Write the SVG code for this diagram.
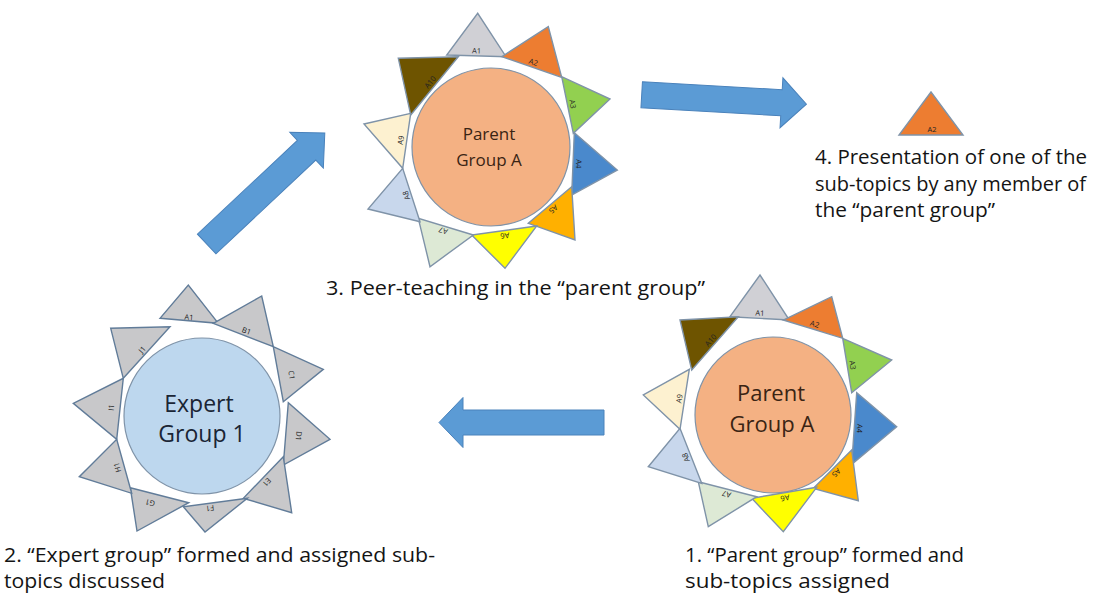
<svg xmlns="http://www.w3.org/2000/svg" width="1098" height="599" viewBox="0 0 1098 599">
<defs>
<style>
.tri{stroke:#7f93a8;stroke-width:1.4;stroke-linejoin:miter}
.etri{fill:#c8c8ca;stroke:#617c99;stroke-width:1.4}
.lbl{font-family:"Open Sans","Liberation Sans",sans-serif;font-size:7.5px;fill:#222;text-anchor:middle;dominant-baseline:central}
.pc{fill:#f4b183;stroke:#7f93a8;stroke-width:1.2}
.ec{fill:#bdd7ee;stroke:#7f93a8;stroke-width:1.2}
.big{font-family:"Open Sans","Liberation Sans",sans-serif;text-anchor:middle}
.cap{font-family:"Open Sans","Liberation Sans",sans-serif;font-size:20.5px;fill:#141414}
.arr{fill:#5b9bd5;stroke:#4a82bb;stroke-width:1}
.c1{fill:#d0d0d5}.c2{fill:#ed7d31}.c3{fill:#92d050}.c4{fill:#4a89cc}.c5{fill:#ffb000}
.c6{fill:#ffff00}.c7{fill:#dde9d5}.c8{fill:#c8d7ec}.c9{fill:#fdf1d0}.c10{fill:#6e5400}
</style>
</defs>

<g id="connectors">
<polygon class="arr" transform="translate(206.7,244) rotate(-43.2)" points="0,-13.5 137,-13.5 137,-24.5 162,0 137,24.5 137,13.5 0,13.5"/>
<polygon class="arr" transform="translate(641.7,94.7) rotate(3.3)" points="0,-13 140,-13 140,-25 165,0 140,25 140,13 0,13"/>
<polygon class="arr" transform="translate(604,422.5) rotate(180)" points="0,-12.5 141,-12.5 141,-25 165,0 141,25 141,12.5 0,12.5"/>
</g>

<g id="parent-group-top">
<g id="top-A1"><polygon class="tri c1" points="446.7,55 506,56.7 477.7,13.3"/><text class="lbl" transform="translate(476.5,50.5) rotate(1.6)">A1</text></g>
<g id="top-A2"><polygon class="tri c2" points="501.7,56.7 561.7,77.3 548.3,26.7"/><text class="lbl" transform="translate(533.6,61.8) rotate(18.9)">A2</text></g>
<g id="top-A3"><polygon class="tri c3" points="561.7,76.7 573.3,133.3 610,99"/><text class="lbl" transform="translate(573,104) rotate(78.4)">A3</text></g>
<g id="top-A4"><polygon class="tri c4" points="574.3,132.7 571.7,195 617.3,170"/><text class="lbl" transform="translate(579,164) rotate(92.4)">A4</text></g>
<g id="top-A5"><polygon class="tri c5" points="571.7,186.7 528.3,223.3 575,240"/><text class="lbl" transform="translate(553.5,209.5) rotate(139.9)">A5</text></g>
<g id="top-A6"><polygon class="tri c6" points="536.7,226 471.7,235 505,268.3"/><text class="lbl" transform="translate(505,236) rotate(172.1)">A6</text></g>
<g id="top-A7"><polygon class="tri c7" points="473.3,235 418.3,218.3 430,266.7"/><text class="lbl" transform="translate(443,231) rotate(196.9)">A7</text></g>
<g id="top-A8"><polygon class="tri c8" points="420,221.7 402.7,168.3 368,209"/><text class="lbl" transform="translate(406,195.5) rotate(252)">A8</text></g>
<g id="top-A9"><polygon class="tri c9" points="402.7,168.3 410.7,113.3 364,124"/><text class="lbl" transform="translate(400.5,140) rotate(278.3)">A9</text></g>
<g id="top-A10"><polygon class="tri c10" points="410.7,115 458.3,56.7 398.3,58.3"/><text class="lbl" transform="translate(430,82) rotate(309.2)">A10</text></g>
<circle class="pc" cx="491" cy="147" r="79"/>
<text class="big" x="489" y="140" font-size="17" fill="#3a2414">Parent</text>
<text class="big" x="489" y="166" font-size="17" fill="#3a2414">Group A</text>
</g>

<g id="parent-group-right">
<g id="right-A1"><polygon class="tri c1" points="730,316.7 789.3,320 760,275"/><text class="lbl" transform="translate(760,312.8) rotate(3.2)">A1</text></g>
<g id="right-A2"><polygon class="tri c2" points="783.3,320 842.7,338.3 831.7,296.7"/><text class="lbl" transform="translate(814.8,323.8) rotate(17.1)">A2</text></g>
<g id="right-A3"><polygon class="tri c3" points="842.7,338.3 851.7,392.7 891.7,360"/><text class="lbl" transform="translate(853,365) rotate(80.6)">A3</text></g>
<g id="right-A4"><polygon class="tri c4" points="856.7,392.7 851.7,464.3 896.7,426.7"/><text class="lbl" transform="translate(860,428.5) rotate(94)">A4</text></g>
<g id="right-A5"><polygon class="tri c5" points="851.7,450 813.3,488.3 858.3,500.7"/><text class="lbl" transform="translate(836.5,473) rotate(135)">A5</text></g>
<g id="right-A6"><polygon class="tri c6" points="816.7,487.3 751.7,498.3 783.3,531.7"/><text class="lbl" transform="translate(785,498.3) rotate(170.4)">A6</text></g>
<g id="right-A7"><polygon class="tri c7" points="756.7,496.7 698.3,481.7 708.3,526.7"/><text class="lbl" transform="translate(726.5,494.5) rotate(194.4)">A7</text></g>
<g id="right-A8"><polygon class="tri c8" points="701.7,483.3 680,428.3 648.3,466.7"/><text class="lbl" transform="translate(685.5,457.5) rotate(248.5)">A8</text></g>
<g id="right-A9"><polygon class="tri c9" points="680,429.3 689.3,369.3 643.3,395"/><text class="lbl" transform="translate(679,398.5) rotate(278.8)">A9</text></g>
<g id="right-A10"><polygon class="tri c10" points="691.7,370 738.3,316.7 680,320"/><text class="lbl" transform="translate(710.5,340) rotate(311.2)">A10</text></g>
<circle class="pc" cx="773" cy="415" r="78"/>
<text class="big" x="771" y="401" font-size="22" fill="#3a2414">Parent</text>
<text class="big" x="772" y="432" font-size="22" fill="#3a2414">Group A</text>
</g>

<g id="expert-group">
<g id="exp-A1"><polygon class="etri" points="160,318.3 218.3,323.3 188.3,285"/><text class="lbl" transform="translate(189,317) rotate(4.9)">A1</text></g>
<g id="exp-B1"><polygon class="etri" points="213.3,323.3 273.3,346.7 261.7,296"/><text class="lbl" transform="translate(246.5,330.5) rotate(21.3)">B1</text></g>
<g id="exp-C1"><polygon class="etri" points="273.3,346.7 283.3,401.7 323.3,369.3"/><text class="lbl" transform="translate(292,375) rotate(79.7)">C1</text></g>
<g id="exp-D1"><polygon class="etri" points="288.3,402.7 283.3,465 330,439.3"/><text class="lbl" transform="translate(299,436) rotate(94.6)">D1</text></g>
<g id="exp-E1"><polygon class="etri" points="283.3,456.7 243.3,498.3 291.7,512.7"/><text class="lbl" transform="translate(267,482.5) rotate(133.9)">E1</text></g>
<g id="exp-F1"><polygon class="etri" points="247.3,498.3 183.3,506.7 205,532"/><text class="lbl" transform="translate(210,508.5) rotate(172.5)">F1</text></g>
<g id="exp-G1"><polygon class="etri" points="188.7,502.7 130.3,487.7 137,531"/><text class="lbl" transform="translate(150,503) rotate(194.4)">G1</text></g>
<g id="exp-H1"><polygon class="etri" points="131.7,493.3 116.7,439.3 79.3,476.7"/><text class="lbl" transform="translate(117,467.5) rotate(254.5)">H1</text></g>
<g id="exp-I1"><polygon class="etri" points="116.7,439.3 123.3,378.3 73.3,403.3"/><text class="lbl" transform="translate(111,407.5) rotate(276.2)">I1</text></g>
<g id="exp-J1"><polygon class="etri" points="123.3,378.3 170,326.7 110.7,328.3"/><text class="lbl" transform="translate(142,349.5) rotate(312.1)">J1</text></g>
<circle class="ec" cx="202" cy="416" r="78"/>
<text class="big" x="199" y="412" font-size="23" fill="#1a2535">Expert</text>
<text class="big" x="202" y="442" font-size="23" fill="#1a2535">Group 1</text>
</g>

<g id="presenter-A2">
<polygon class="tri c2" points="899,135 963,135 931,92"/>
<text class="lbl" x="932" y="129">A2</text>
</g>

<g id="captions">
<text class="cap" x="326" y="295" textLength="379" lengthAdjust="spacingAndGlyphs">3. Peer-teaching in the “parent group”</text>
<text class="cap" x="815" y="163.5" textLength="272" lengthAdjust="spacingAndGlyphs">4. Presentation of one of the</text>
<text class="cap" x="815" y="190.5" textLength="271" lengthAdjust="spacingAndGlyphs">sub-topics by any member of</text>
<text class="cap" x="815" y="217" textLength="180" lengthAdjust="spacingAndGlyphs">the “parent group”</text>
<text class="cap" x="4" y="561.5" textLength="431" lengthAdjust="spacingAndGlyphs">2. “Expert group” formed and assigned sub-</text>
<text class="cap" x="4" y="588" textLength="161" lengthAdjust="spacingAndGlyphs">topics discussed</text>
<text class="cap" x="685" y="561.5" textLength="279" lengthAdjust="spacingAndGlyphs">1. “Parent group” formed and</text>
<text class="cap" x="685" y="588" textLength="205" lengthAdjust="spacingAndGlyphs">sub-topics assigned</text>
</g>
</svg>
